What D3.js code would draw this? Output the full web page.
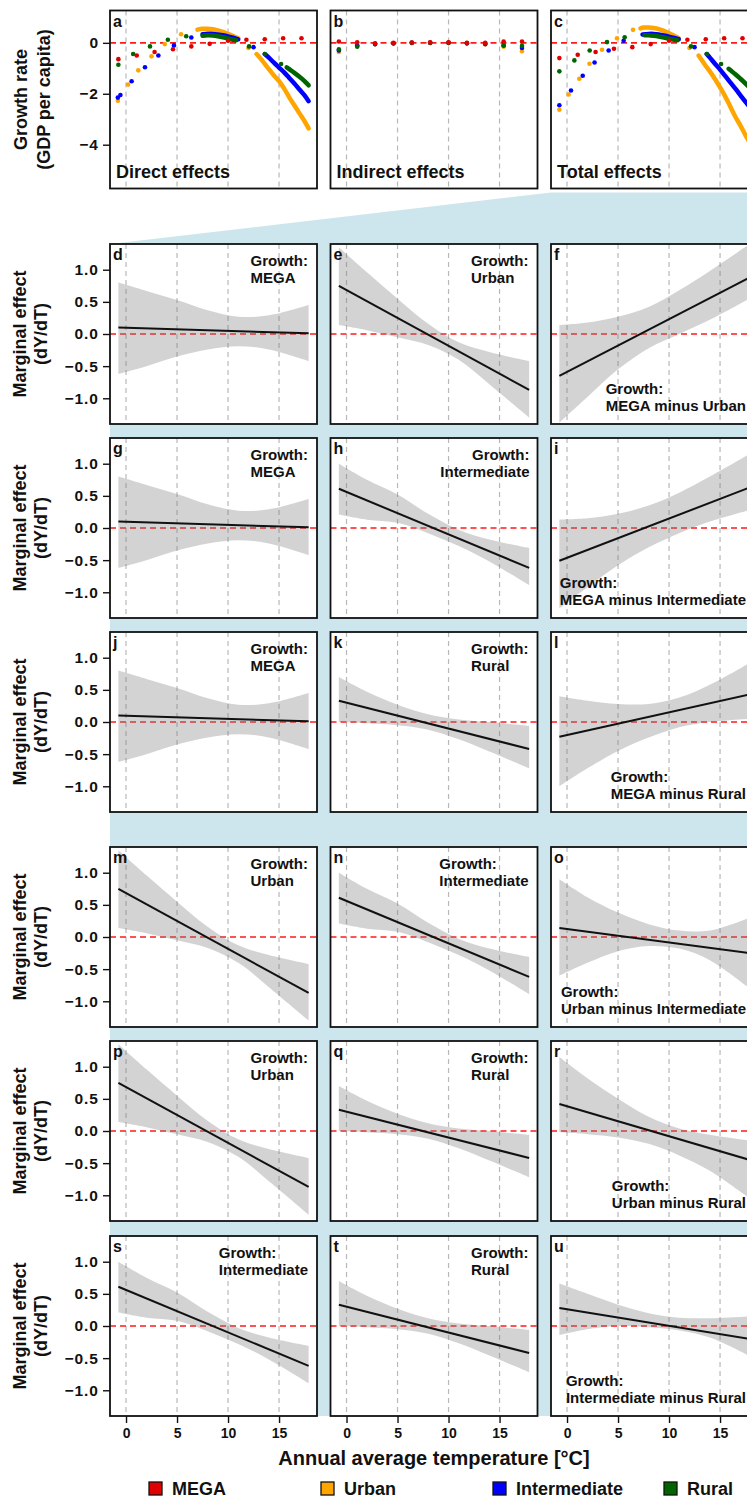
<!DOCTYPE html>
<html>
<head>
<meta charset="utf-8">
<script src="https://cdn.jsdelivr.net/npm/d3@7"></script>
<style>
  body { margin: 0; background: #fff; }
  svg { display: block; font-family: "Liberation Sans", Arial, sans-serif; }
</style>
</head>
<body>
<svg id="fig" width="747" height="1499"></svg>
<script>
// ---------- categories, ticks ----------
const categories = ["MEGA", "Urban", "Intermediate", "Rural"];
const catColors  = ["#e00000", "#ffa500", "#0000ff", "#006400"];
const tempTicks   = [0, 5, 10, 15];
const growthTicks = [0, -2, -4];
const effectTicks = [1.0, 0.5, 0.0, -0.5, -1.0];

// ---------- growth effects by temperature (panels a-c) ----------
// MEGA regions: one value per temperature bin
const megaTemps    = [-0.75, 1.05, 2.8, 4.6, 6.4, 8.2, 10.0, 11.8, 13.6, 15.4, 17.2];
const directMega   = [-0.64, -0.50, -0.36, -0.25, -0.14, -0.04, 0.08, 0.12, 0.14, 0.18, 0.18];
const indirectMega = [0.05, 0.02, -0.02, 0.00, 0.01, 0.02, 0.02, 0.00, 0.00, 0.05, 0.05];
const totalMega    = [-0.60, -0.47, -0.36, -0.23, -0.17, -0.05, 0.08, 0.12, 0.14, 0.18, 0.18];

// indirect effects of the other classes, same bins
const indirectUrban = [-0.36, -0.10, -0.05, -0.02, 0.00, 0.00, 0.00, -0.02, -0.06, -0.15, -0.33];
const indirectInter = [-0.30, -0.10, -0.05, -0.02, 0.00, 0.00, 0.00, -0.02, -0.05, -0.10, -0.20];
const indirectRural = [-0.25, -0.15, -0.05, -0.02, 0.00, 0.00, 0.00, -0.01, -0.03, -0.10, -0.12];

// direct effects: isolated points and dense runs [temperature, growth]
const directUrbanDots = [[-0.8,-2.27],[0.2,-1.64],[1.2,-1.08],[2.5,-0.53],[3.8,-0.05],[5.4,0.34],[12.0,-0.20]];
const directUrbanWarm = [[7.0,0.52],[7.5,0.55],[8,0.55],[8.5,0.53],[9,0.49],[9.5,0.43],[10,0.35],[10.5,0.27],[11,0.18]];
const directUrbanHot  = [[12.8,-0.44],[13.2,-0.62],[13.6,-0.83],[14,-1.03],[14.5,-1.28],[15,-1.50],[15.5,-1.80],[16,-2.14],[16.5,-2.45],[17,-2.77],[17.5,-3.08],[17.9,-3.36]];
const directInterDots = [[-0.8,-2.15],[-0.55,-2.05],[0.55,-1.51],[1.86,-0.96],[3.17,-0.50],[4.7,-0.10],[6.4,0.21],[12.5,-0.17]];
const directInterWarm = [[7.5,0.34],[8,0.36],[8.5,0.35],[9,0.33],[9.5,0.30],[10,0.25],[10.5,0.20],[11,0.14]];
const directInterHot  = [[13.6,-0.44],[14,-0.58],[14.5,-0.78],[15,-0.97],[15.5,-1.16],[16,-1.38],[16.5,-1.60],[17,-1.83],[17.5,-2.06],[17.9,-2.29]];
const directRuralDots = [[-0.75,-0.86],[0.7,-0.44],[2.35,-0.14],[4.1,0.12],[5.9,0.26],[12.06,-0.14],[13.6,-0.44],[15.2,-0.83]];
const directRuralWarm = [[7.5,0.28],[8,0.30],[8.5,0.29],[9,0.26],[9.5,0.22],[10,0.17],[10.5,0.12],[10.8,0.10]];
const directRuralHot  = [[15.75,-0.96],[16,-1.03],[16.5,-1.18],[17,-1.33],[17.5,-1.50],[17.9,-1.67]];

// total effects
const totalUrbanDots = [[-0.75,-2.63],[0.16,-2.03],[1.2,-1.41],[2.2,-0.82],[3.43,-0.27],[4.9,0.18],[6.47,0.51],[12.0,-0.20]];
const totalUrbanWarm = [[7.2,0.57],[7.5,0.60],[8,0.60],[8.5,0.58],[9,0.54],[9.5,0.47],[10,0.38],[10.5,0.28],[10.95,0.18]];
const totalUrbanHot  = [[12.9,-0.50],[13.5,-0.85],[14,-1.12],[14.5,-1.42],[15,-1.75],[15.5,-2.10],[16,-2.50],[16.5,-2.90],[17,-3.25],[17.5,-3.63],[17.9,-3.90]];
const totalInterDots = [[-0.75,-2.45],[0.39,-1.87],[1.54,-1.29],[2.7,-0.77],[4.08,-0.30],[5.55,0.08],[12.5,-0.17]];
const totalInterWarm = [[7.4,0.33],[8,0.35],[8.5,0.35],[9,0.33],[9.5,0.29],[10,0.24],[10.5,0.19],[10.95,0.14]];
const totalInterHot  = [[13.7,-0.44],[14,-0.58],[14.5,-0.82],[15,-1.05],[15.5,-1.30],[16,-1.55],[16.5,-1.80],[17,-2.06],[17.5,-2.32],[17.9,-2.52]];
const totalRuralDots = [[-0.75,-1.12],[0.72,-0.69],[2.22,-0.30],[3.92,0.03],[5.65,0.22],[12.15,-0.14],[13.7,-0.44],[15.1,-0.83]];
const totalRuralWarm = [[7.6,0.30],[8,0.30],[8.5,0.28],[9,0.25],[9.5,0.21],[10,0.16],[10.5,0.12],[10.8,0.10]];
const totalRuralHot  = [[15.85,-1.02],[16,-1.07],[16.5,-1.23],[17,-1.41],[17.5,-1.60],[17.9,-1.77]];

// ---------- marginal effects dY/dT (panels d-u) ----------
const lineTemps   = [-0.75, 17.9];
const ribbonTemps = [-0.75, 2, 5, 8, 11, 14, 17.9];

const megaLine  = [0.10, 0.01];
const megaLower = [-0.62, -0.50, -0.35, -0.24, -0.19, -0.24, -0.42];
const megaUpper = [0.80, 0.67, 0.53, 0.37, 0.27, 0.29, 0.45];

const urbanLine  = [0.75, -0.87];
const urbanLower = [0.14, 0.06, -0.05, -0.17, -0.40, -0.78, -1.30];
const urbanUpper = [1.35, 0.96, 0.55, 0.16, -0.13, -0.28, -0.42];

const interLine  = [0.61, -0.62];
const interLower = [0.21, 0.13, 0.08, -0.08, -0.28, -0.52, -0.89];
const interUpper = [1.00, 0.75, 0.52, 0.22, -0.03, -0.18, -0.31];

const ruralLine  = [0.33, -0.42];
const ruralLower = [0.00, -0.02, -0.05, -0.12, -0.27, -0.46, -0.72];
const ruralUpper = [0.70, 0.47, 0.27, 0.12, 0.04, 0.00, -0.06];

const megaUrbanLine  = [-0.65, 0.88];
const megaUrbanLower = [-1.38, -0.98, -0.55, -0.22, 0.00, 0.22, 0.55];
const megaUrbanUpper = [0.14, 0.18, 0.27, 0.42, 0.68, 0.98, 1.40];

const megaInterLine  = [-0.51, 0.63];
const megaInterLower = [-1.25, -0.92, -0.58, -0.30, -0.08, 0.10, 0.28];
const megaInterUpper = [0.13, 0.15, 0.22, 0.35, 0.55, 0.80, 1.15];

const megaRuralLine  = [-0.23, 0.43];
const megaRuralLower = [-1.00, -0.72, -0.45, -0.24, -0.08, 0.00, 0.05];
const megaRuralUpper = [0.40, 0.33, 0.28, 0.28, 0.38, 0.58, 0.92];

const urbanInterLine  = [0.14, -0.25];
const urbanInterLower = [-0.60, -0.40, -0.22, -0.14, -0.18, -0.36, -0.80];
const urbanInterUpper = [0.90, 0.62, 0.38, 0.20, 0.10, 0.10, 0.30];

const urbanRuralLine  = [0.42, -0.45];
const urbanRuralLower = [-0.02, -0.05, -0.10, -0.20, -0.38, -0.62, -1.05];
const urbanRuralUpper = [1.15, 0.82, 0.50, 0.22, 0.04, -0.06, -0.15];

const interRuralLine  = [0.28, -0.20];
const interRuralLower = [-0.14, -0.05, 0.00, -0.02, -0.07, -0.18, -0.47];
const interRuralUpper = [0.66, 0.50, 0.33, 0.20, 0.13, 0.12, 0.15];

// ---------- build tables ----------
const effects = {
  mega:       { line: megaLine,       lower: megaLower,       upper: megaUpper,       label: "MEGA" },
  urban:      { line: urbanLine,      lower: urbanLower,      upper: urbanUpper,      label: "Urban" },
  inter:      { line: interLine,      lower: interLower,      upper: interUpper,      label: "Intermediate" },
  rural:      { line: ruralLine,      lower: ruralLower,      upper: ruralUpper,      label: "Rural" },
  megaUrban:  { line: megaUrbanLine,  lower: megaUrbanLower,  upper: megaUrbanUpper,  label: "MEGA minus Urban" },
  megaInter:  { line: megaInterLine,  lower: megaInterLower,  upper: megaInterUpper,  label: "MEGA minus Intermediate" },
  megaRural:  { line: megaRuralLine,  lower: megaRuralLower,  upper: megaRuralUpper,  label: "MEGA minus Rural" },
  urbanInter: { line: urbanInterLine, lower: urbanInterLower, upper: urbanInterUpper, label: "Urban minus Intermediate" },
  urbanRural: { line: urbanRuralLine, lower: urbanRuralLower, upper: urbanRuralUpper, label: "Urban minus Rural" },
  interRural: { line: interRuralLine, lower: interRuralLower, upper: interRuralUpper, label: "Intermediate minus Rural" }
};

const gridRows = [
  ["mega", "urban", "megaUrban"],
  ["mega", "inter", "megaInter"],
  ["mega", "rural", "megaRural"],
  ["urban", "inter", "urbanInter"],
  ["urban", "rural", "urbanRural"],
  ["inter", "rural", "interRural"]
];
const panelLetters = "defghijklmnopqrstu".split("");
// panel whose annotation lines are right-justified
const rightJustified = ["h"];

const topPanels = [
  { letter: "a", title: "Direct effects",
    mega: megaTemps.map((t, i) => [t, directMega[i]]),
    series: [
      { c: 1, dots: directUrbanDots, runs: [directUrbanWarm, directUrbanHot] },
      { c: 2, dots: directInterDots, runs: [directInterWarm, directInterHot] },
      { c: 3, dots: directRuralDots, runs: [directRuralWarm, directRuralHot] }
    ] },
  { letter: "b", title: "Indirect effects",
    mega: megaTemps.map((t, i) => [t, indirectMega[i]]),
    series: [
      { c: 1, dots: megaTemps.map((t, i) => [t, indirectUrban[i]]), runs: [] },
      { c: 2, dots: megaTemps.map((t, i) => [t, indirectInter[i]]), runs: [] },
      { c: 3, dots: megaTemps.map((t, i) => [t, indirectRural[i]]), runs: [] }
    ] },
  { letter: "c", title: "Total effects",
    mega: megaTemps.map((t, i) => [t, totalMega[i]]),
    series: [
      { c: 1, dots: totalUrbanDots, runs: [totalUrbanWarm, totalUrbanHot] },
      { c: 2, dots: totalInterDots, runs: [totalInterWarm, totalInterHot] },
      { c: 3, dots: totalRuralDots, runs: [totalRuralWarm, totalRuralHot] }
    ] }
];

// ---------- layout ----------
const svg = d3.select("#fig");
const colLeft = [110, 330.5, 551];
const panelW = 207;
const topY = 10.5, topH = 178;
const rowTops = [244, 438, 632, 847, 1041, 1236];
const rowH = 180;
const FONT = '"Liberation Sans", Arial, sans-serif';

const x = d3.scaleLinear().domain([-1.57, 18.72]).range([0, panelW]);
const yTop = d3.scaleLinear().domain([-5.72, 1.27]).range([topH, 0]);
const yEff = d3.scaleLinear().domain([-1.4, 1.4]).range([rowH, 0]);

const defs = svg.append("defs");
defs.append("clipPath").attr("id", "clipTop").append("rect").attr("width", panelW).attr("height", topH);
defs.append("clipPath").attr("id", "clipEff").append("rect").attr("width", panelW).attr("height", rowH);

// light-blue backdrop linking the total-effects panel to the detail grid
const lastBottom = rowTops[5] + rowH;
svg.append("path")
  .attr("d", d3.line()([[colLeft[0], rowTops[0]], [colLeft[2], topY + topH + 4], [colLeft[2] + panelW, topY + topH + 4],
                        [colLeft[2] + panelW, lastBottom], [colLeft[0], lastBottom]]) + "Z")
  .attr("fill", "#cde6ed");

function panelFrame(g, h) {
  g.append("rect").attr("width", panelW).attr("height", h).attr("fill", "#fff");
  g.append("g").selectAll("line").data(tempTicks).join("line")
    .attr("x1", d => x(d)).attr("x2", d => x(d)).attr("y1", 0).attr("y2", h)
    .attr("stroke", "#b8b8b8").attr("stroke-width", 1.2).attr("stroke-dasharray", "5,4");
}
function zeroLine(g, y) {
  g.append("line").attr("x1", 0).attr("x2", panelW).attr("y1", y(0)).attr("y2", y(0))
    .attr("stroke", "#ff1a1a").attr("stroke-width", 1.6).attr("stroke-dasharray", "6,4");
}
function border(g, h) {
  g.append("rect").attr("width", panelW).attr("height", h).attr("fill", "none")
    .attr("stroke", "#111").attr("stroke-width", 1.8);
}
function letter(g, s) {
  g.append("text").attr("x", 3).attr("y", 16).text(s)
    .attr("font-family", FONT).attr("font-weight", "bold").attr("font-size", 16).attr("fill", "#111");
}

// ---------- top row ----------
topPanels.forEach((p, i) => {
  const g = svg.append("g").attr("transform", `translate(${colLeft[i]},${topY})`);
  panelFrame(g, topH);
  const inner = g.append("g").attr("clip-path", "url(#clipTop)");
  zeroLine(inner, yTop);
  const line = d3.line().x(d => x(d[0])).y(d => yTop(d[1])).curve(d3.curveCatmullRom);
  p.series.forEach(s => {
    s.runs.forEach(r => inner.append("path").attr("d", line(r)).attr("fill", "none")
      .attr("stroke", catColors[s.c]).attr("stroke-width", 4.5).attr("stroke-linecap", "round"));
    inner.append("g").selectAll("circle").data(s.dots).join("circle")
      .attr("cx", d => x(d[0])).attr("cy", d => yTop(d[1])).attr("r", 2.3).attr("fill", catColors[s.c]);
  });
  inner.append("g").selectAll("circle").data(p.mega).join("circle")
    .attr("cx", d => x(d[0])).attr("cy", d => yTop(d[1])).attr("r", 2.3).attr("fill", catColors[0]);
  border(g, topH);
  letter(g, p.letter);
  g.append("text").attr("x", 6).attr("y", topH - 11).text(p.title)
    .attr("font-family", FONT).attr("font-weight", "bold").attr("font-size", 18).attr("fill", "#111");
});

// top y axis
const axTop = svg.append("g").attr("transform", `translate(${colLeft[0]},${topY})`)
  .call(d3.axisLeft(yTop).tickValues(growthTicks).tickSize(7).tickPadding(4)
        .tickFormat(d => d === 0 ? "0" : "\u2212" + Math.abs(d)));
axTop.select(".domain").remove();
axTop.selectAll("line").attr("stroke", "#111").attr("stroke-width", 1.4);
axTop.selectAll("text").attr("font-family", FONT).attr("font-weight", "bold").attr("font-size", 15.5)
  .attr("fill", "#111").attr("letter-spacing", 1);

// ---------- marginal effect grid ----------
const area = d3.area().x(d => x(d.t)).y0(d => yEff(d.lo)).y1(d => yEff(d.hi)).curve(d3.curveCatmullRom);
const eLine = d3.line().x(d => x(d[0])).y(d => yEff(d[1]));

gridRows.forEach((row, r) => {
  row.forEach((key, c) => {
    const e = effects[key];
    const id = panelLetters[r * 3 + c];
    const g = svg.append("g").attr("transform", `translate(${colLeft[c]},${rowTops[r]})`);
    panelFrame(g, rowH);
    const inner = g.append("g").attr("clip-path", "url(#clipEff)");
    zeroLine(inner, yEff);
    const band = ribbonTemps.map((t, i) => ({ t, lo: e.lower[i], hi: e.upper[i] }));
    inner.append("path").attr("d", area(band)).attr("fill", "#7f7f7f").attr("fill-opacity", 0.34);
    inner.append("path").attr("d", eLine(lineTemps.map((t, i) => [t, e.line[i]])))
      .attr("fill", "none").attr("stroke", "#111").attr("stroke-width", 2);
    border(g, rowH);
    letter(g, id);

    // annotation block anchored top-right (own effects) or bottom-right (differences)
    const lines = ["Growth:", e.label];
    const txt = g.append("g").selectAll("text").data(lines).join("text").text(d => d)
      .attr("font-family", FONT).attr("font-weight", "bold").attr("font-size", 15).attr("fill", "#111");
    const isDiff = c === 2;
    const by = isDiff ? rowH - 30 : 22;
    if (rightJustified.includes(id)) {
      txt.attr("text-anchor", "end").attr("x", panelW - 8).attr("y", (d, i) => by + i * 17);
    } else {
      const w = d3.max(txt.nodes(), n => n.getComputedTextLength());
      const bx = panelW - (isDiff ? 12 : 9) - w;
      txt.attr("x", bx).attr("y", (d, i) => by + i * 17);
    }
  });

  const ax = svg.append("g").attr("transform", `translate(${colLeft[0]},${rowTops[r]})`)
    .call(d3.axisLeft(yEff).tickValues(effectTicks).tickSize(7).tickPadding(4)
          .tickFormat(d => (d < 0 ? "\u2212" : "") + Math.abs(d).toFixed(1)));
  ax.select(".domain").remove();
  ax.selectAll("line").attr("stroke", "#111").attr("stroke-width", 1.4);
  ax.selectAll("text").attr("font-family", FONT).attr("font-weight", "bold").attr("font-size", 15.5)
    .attr("fill", "#111").attr("letter-spacing", 1);

  // y title
  const cy = rowTops[r] + rowH / 2;
  [["Marginal effect", 26], ["(dY/dT)", 47]].forEach(([s, bx]) => {
    svg.append("text").attr("transform", `translate(${bx},${cy}) rotate(-90)`).attr("text-anchor", "middle")
      .text(s).attr("font-family", FONT).attr("font-weight", "bold").attr("font-size", 18).attr("fill", "#111");
  });
});

// top y title
[["Growth rate", 27], ["(GDP per capita)", 50]].forEach(([s, bx]) => {
  svg.append("text").attr("transform", `translate(${bx},${topY + topH / 2}) rotate(-90)`).attr("text-anchor", "middle")
    .text(s).attr("font-family", FONT).attr("font-weight", "bold").attr("font-size", 18).attr("fill", "#111");
});

// bottom x axes
colLeft.forEach(cx => {
  const ax = svg.append("g").attr("transform", `translate(${cx},${lastBottom})`)
    .call(d3.axisBottom(x).tickValues(tempTicks).tickSize(7).tickPadding(5));
  ax.select(".domain").remove();
  ax.selectAll("line").attr("stroke", "#111").attr("stroke-width", 1.4);
  ax.selectAll("text").attr("font-family", FONT).attr("font-weight", "bold").attr("font-size", 14).attr("fill", "#111");
});

svg.append("text").attr("x", colLeft[1] + panelW / 2).attr("y", 1465).attr("text-anchor", "middle")
  .text("Annual average temperature [\u00b0C]")
  .attr("font-family", FONT).attr("font-weight", "bold").attr("font-size", 20).attr("fill", "#111");

// legend
const legendX = [149, 321, 493, 664];
const leg = svg.append("g").selectAll("g").data(categories).join("g")
  .attr("transform", (d, i) => `translate(${legendX[i]},1482)`);
leg.append("rect").attr("width", 13).attr("height", 13)
  .attr("fill", (d, i) => catColors[i]).attr("stroke", "#111").attr("stroke-width", 1.3);
leg.append("text").attr("x", 23).attr("y", 13).text(d => d)
  .attr("font-family", FONT).attr("font-weight", "bold").attr("font-size", 18).attr("fill", "#111");
</script>
</body>
</html>
